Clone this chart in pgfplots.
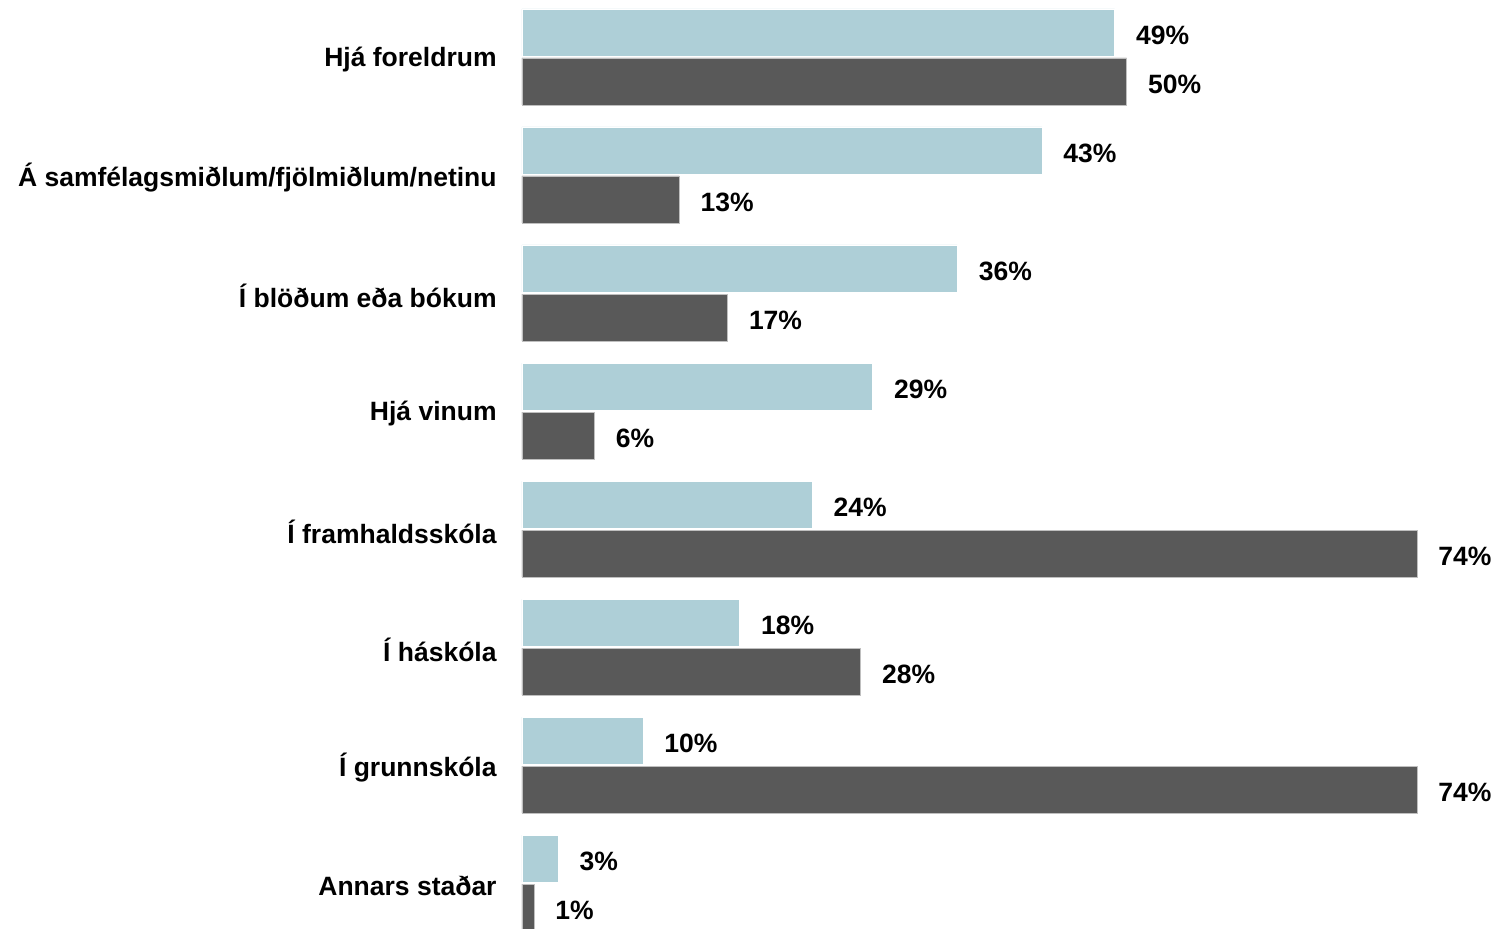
\documentclass[border=0pt]{standalone}
\usepackage{pgfplots}
\pgfplotsset{compat=1.18}
\usepackage{fontspec}
\setmainfont{Liberation Sans}
\definecolor{lightbar}{HTML}{AECFD7}
\definecolor{darkbar}{HTML}{595959}
\begin{document}
\begin{tikzpicture}
\begin{axis}[
    name=ax,
    xbar,
    scale only axis,
    width=447.5pt, height=472pt,
    xmin=0, xmax=74,
    ymin=-0.5, ymax=7.5,
    y dir=reverse,
    clip=false,
    axis line style={draw=none},
    major tick length=0pt,
    xtick=\empty,
    ytick={0,...,7},
    yticklabels={Hjá foreldrum, Á samfélagsmiðlum/fjölmiðlum/netinu, Í blöðum eða bókum, Hjá vinum, Í framhaldsskóla, Í háskóla, Í grunnskóla, Annars staðar},
    yticklabel style={font=\fontsize{13.25}{16}\selectfont\bfseries, anchor=east, inner sep=0pt, xshift=-12.5pt, yshift=-1.5pt},
    bar width=23.5pt,
    /pgf/number format/assume math mode=true,
    nodes near coords={\pgfmathprintnumber{\pgfplotspointmeta}\%},
    nodes near coords style={font=\fontsize{13.25}{16}\selectfont\bfseries, anchor=west, inner xsep=0pt, xshift=10.5pt, yshift=-1.5pt, text=black},
]
\addplot[fill=lightbar, draw=white, line width=0.4pt, bar shift=12.25pt] coordinates {
    (49,0) (43,1) (36,2) (29,3) (24,4) (18,5) (10,6) (3,7)
};
\addplot[fill=darkbar, draw=gray!50, line width=0.4pt, bar shift=-12.25pt] coordinates {
    (50,0) (13,1) (17,2) (6,3) (74,4) (28,5) (74,6) (1,7)
};
\end{axis}
\pgfresetboundingbox
\path[use as bounding box] ([xshift=-261pt,yshift=6.5pt]ax.south west) rectangle ([xshift=39.5pt,yshift=-1pt]ax.north east);
\end{tikzpicture}
\end{document}
